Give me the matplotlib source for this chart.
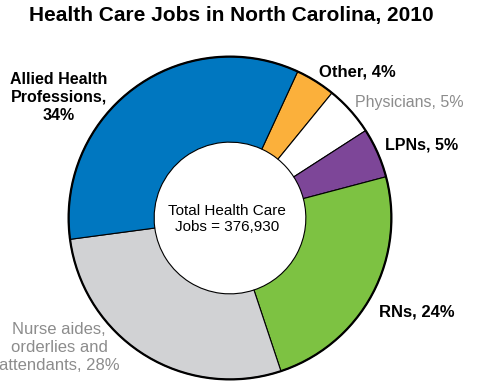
import matplotlib.pyplot as plt
from matplotlib.patches import Circle

# data
labels = ['Other, 4%', 'Physicians, 5%', 'LPNs, 5%', 'RNs, 24%',
          'Nurse aides,\norderlies and\nattendants, 28%',
          'Allied Health\nProfessions,\n34%']
shares = [4, 5, 5, 24, 28, 34]
colors = ['#FBB03B', '#FFFFFF', '#7D4698', '#7DC242', '#D1D2D4', '#0077C0']
total_jobs = 376930

W, H = 486, 388
fig = plt.figure(figsize=(W / 100, H / 100), dpi=100)

# pie placed by pixel: centre (230, 218), radius 163
cx, cy, r = 230, 218, 163
ax = fig.add_axes([(cx - r) / W, 1 - (cy + r) / H, 2 * r / W, 2 * r / H])
ax.pie(shares, colors=colors, startangle=65.2, counterclock=False,
       radius=1, wedgeprops=dict(width=0.53, edgecolor='black', linewidth=0.8))
ax.add_patch(Circle((0, 0), 1, fill=False, edgecolor='black', linewidth=1.6))
ax.set_xlim(-1.01, 1.01)
ax.set_ylim(-1.01, 1.01)
ax.set_aspect('equal')
ax.axis('off')

font = ['Liberation Sans', 'DejaVu Sans']
grey = '#8C8C8C'

def px(x, y):
    return x / W, 1 - y / H

fig.text(*px(231, 16), 'Health Care Jobs in North Carolina, 2010', ha='center',
         va='center', fontsize=15, fontweight='bold', family=font)

# label positions (pixels) and styles
label_pos = [(357, 72), (409, 102), (422, 145), (417, 312), (59, 347), (59, 97)]
label_size = [12, 11.5, 11.5, 12, 12, 11.5]
label_bold = [True, False, True, True, False, True]
label_col = ['black', grey, 'black', 'black', grey, 'black']
for lab, (x, y), s, b, c in zip(labels, label_pos, label_size, label_bold, label_col):
    fig.text(*px(x, y), lab, ha='center', va='center', fontsize=s,
             fontweight='bold' if b else 'normal', color=c, family=font,
             linespacing=1.25)

fig.text(*px(227, 219), 'Total Health Care\nJobs = {:,}'.format(total_jobs),
         ha='center', va='center', fontsize=11, family=font, linespacing=1.25)

fig.savefig('out.png', dpi=100)
